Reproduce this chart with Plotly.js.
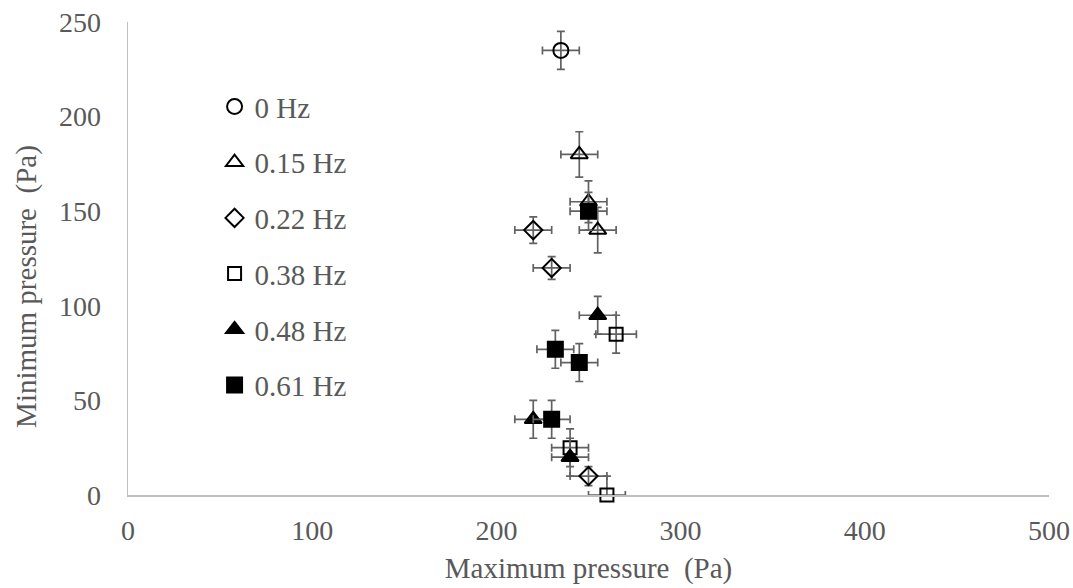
<!DOCTYPE html>
<html>
<head>
<meta charset="utf-8">
<script src="https://cdn.plot.ly/plotly-3.0.1.min.js"></script>
<style>html,body{margin:0;padding:0;background:#fff;}#chart{width:1073px;height:588px;}</style>
</head>
<body>
<div id="chart"></div>
<script>
// Series: maximum pressure (x), minimum pressure (y), error bars
const seriesNames = ["0 Hz", "0.15 Hz", "0.22 Hz", "0.38 Hz", "0.48 Hz", "0.61 Hz"];

const hz0_x = [235];
const hz0_y = [235];
const hz0_ex = [10];
const hz0_ey = [10];

const hz015_x = [245, 250, 255];
const hz015_y = [180, 155, 140];
const hz015_ex = [10, 10, 10];
const hz015_ey = [12, 11, 12];

const hz022_x = [220, 230, 250];
const hz022_y = [140, 120, 10];
const hz022_ex = [10, 10, 10];
const hz022_ey = [7, 6, 5];

const hz038_x = [265, 240, 260];
const hz038_y = [85, 25, 0];
const hz038_ex = [11, 10, 10];
const hz038_ey = [10, 10, 10];

const hz048_x = [255, 220, 240];
const hz048_y = [95, 40, 20];
const hz048_ex = [10, 10, 10];
const hz048_ey = [10, 10, 10];

const hz061_x = [250, 232, 245, 230];
const hz061_y = [150, 77, 70, 40];
const hz061_ex = [10, 10, 10, 10];
const hz061_ey = [10, 10, 10, 10];

const xTicks = [0, 100, 200, 300, 400, 500];
const yTicks = [0, 50, 100, 150, 200, 250];
const xTitle = "Maximum pressure  (Pa)";
const yTitle = "Minimum pressure  (Pa)";

const errColor = "#626262";
function mk(name, xs, ys, ex, ey, symbol, size, idx) {
  return {
    type: "scatter", mode: "markers", name: name,
    x: xs, y: ys, cliponaxis: false,
    legendgroup: "g" + idx,
    marker: {symbol: symbol, size: size, color: "#000",
             line: {color: "#000", width: 2}},
    error_x: {type: "data", array: ex, visible: true, color: errColor, thickness: 1.7, width: 4},
    error_y: {type: "data", array: ey, visible: true, color: errColor, thickness: 1.7, width: 4}
  };
}

const traces = [
  mk(seriesNames[0], hz0_x, hz0_y, hz0_ex, hz0_ey, "circle-open", 15, 0),
  mk(seriesNames[1], hz015_x, hz015_y, hz015_ex, hz015_ey, "triangle-up-open", 15, 1),
  mk(seriesNames[2], hz022_x, hz022_y, hz022_ex, hz022_ey, "diamond-open", 14, 2),
  mk(seriesNames[3], hz038_x, hz038_y, hz038_ex, hz038_ey, "square-open", 13, 3),
  mk(seriesNames[4], hz048_x, hz048_y, hz048_ex, hz048_ey, "triangle-up", 15, 4),
  mk(seriesNames[5], hz061_x, hz061_y, hz061_ex, hz061_ey, "square", 15, 5)
];

const fam = "Liberation Serif, Times New Roman, serif";
const tickFont = {family: fam, size: 28, color: "#595959"};
const bigFont = {family: fam, size: 29, color: "#595959"};

const layout = {
  width: 1073, height: 588,
  margin: {l: 128, r: 24, t: 22, b: 93},
  paper_bgcolor: "#fff", plot_bgcolor: "#fff",
  font: tickFont,
  showlegend: true,
  legend: {x: 0.094, y: 0.875, xanchor: "left", yanchor: "top",
           font: bigFont, tracegroupgap: 15, bgcolor: "rgba(0,0,0,0)", itemsizing: "trace"},
  xaxis: {range: [0, 500], tickvals: xTicks, ticktext: xTicks.map(String), showgrid: false, zeroline: false,
          showline: true, linecolor: "#bfbfbf", linewidth: 1.5, ticks: "", ticklabelstandoff: 10,
          tickfont: tickFont,
          title: {text: xTitle, font: bigFont, standoff: 12}},
  yaxis: {range: [0, 250], tickvals: yTicks, ticktext: yTicks.map(String), showgrid: false, zeroline: false,
          showline: true, linecolor: "#bfbfbf", linewidth: 1.5, ticks: "", ticklabelstandoff: 20,
          tickfont: tickFont},
  annotations: [{text: yTitle, textangle: -90, font: bigFont, showarrow: false,
                 xref: "paper", yref: "paper", x: -0.1097, y: 0.442, xanchor: "center", yanchor: "middle"}]
};

Plotly.newPlot("chart", traces, layout, {displayModeBar: false, staticPlot: true});
</script>
</body>
</html>
